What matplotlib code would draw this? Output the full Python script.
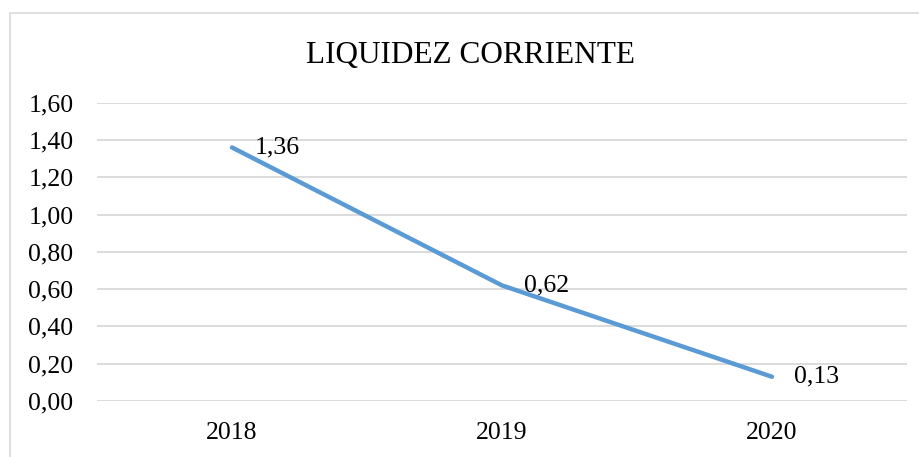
import matplotlib.pyplot as plt
from matplotlib.patches import Rectangle

# -----------------------------
# Data
# -----------------------------
years = ['2018', '2019', '2020']
liquidez = [1.36, 0.62, 0.13]
yticks = [0.0, 0.2, 0.4, 0.6, 0.8, 1.0, 1.2, 1.4, 1.6]

plt.rcParams['font.family'] = ['Liberation Serif', 'DejaVu Serif']

W, H = 920, 457
fig = plt.figure(figsize=(W / 100, H / 100), dpi=100)
ax = fig.add_axes([97 / W, 1 - 401 / H, (907 - 97) / W, (401 - 102.7) / H])

# chart border (cropped on right and bottom)
fig.patches.append(Rectangle((10 / W, -0.1), 1.2, 1 - 13 / H + 0.1,
                             transform=fig.transFigure, fill=False,
                             edgecolor='#D9D9D9', lw=1.2))

x = range(len(years))
ax.plot(x, liquidez, color='#5B9BD5', lw=3.2, solid_capstyle='round',
        solid_joinstyle='round', zorder=3)

for i, v in enumerate(liquidez):
    ax.annotate(f'{v:.2f}'.replace('.', ','), (i, v), xytext=(16, 0),
                textcoords='offset points', ha='left', va='center',
                fontsize=18.5, color='#000000', zorder=4)

ax.set_xlim(-0.5, len(years) - 0.5)
ax.set_ylim(0, 1.6)
ax.set_xticks(list(x))
ax.set_xticklabels(years)
ax.set_yticks(yticks)
ax.set_yticklabels([f'{t:.2f}'.replace('.', ',') for t in yticks])
ax.tick_params(axis='both', length=0, labelsize=18.5, colors='#000000')
ax.tick_params(axis='y', pad=17)
ax.tick_params(axis='x', pad=15)
ax.grid(axis='y', color='#D9D9D9', lw=1.3)
ax.set_axisbelow(True)
for s in ax.spines.values():
    s.set_visible(False)

fig.text(471 / W, 1 - 55 / H, 'LIQUIDEZ CORRIENTE', ha='center', va='center',
         fontsize=22.5, color='#000000')

fig.savefig('out.png', dpi=100)
